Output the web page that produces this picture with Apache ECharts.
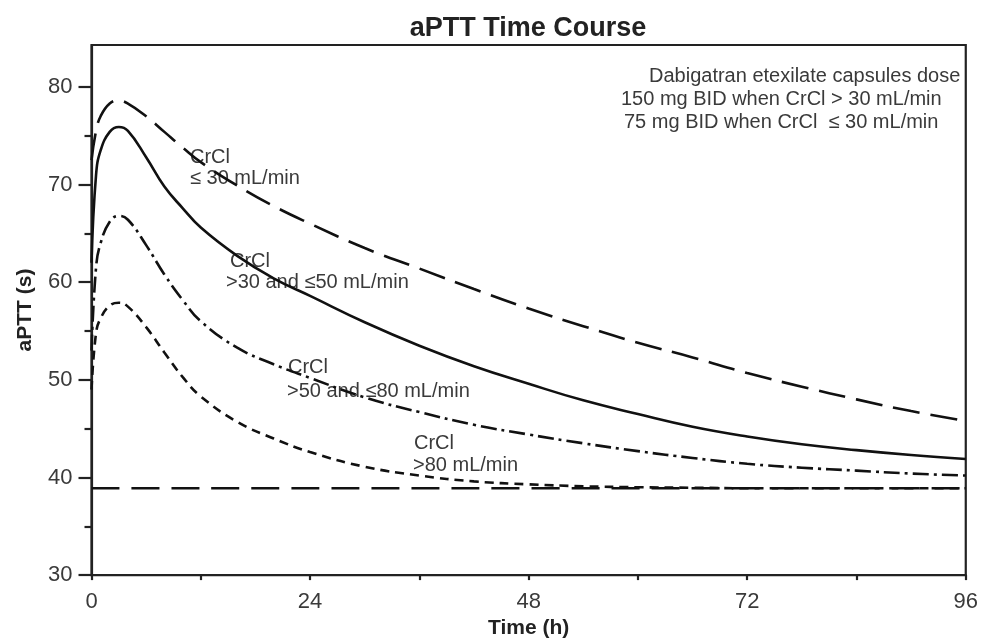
<!DOCTYPE html>
<html>
<head>
<meta charset="utf-8">
<script src="https://cdn.jsdelivr.net/npm/echarts@6/dist/echarts.min.js"></script>
<style>
html,body{margin:0;padding:0;background:#fff;}
#chart{width:981px;height:644px;}
</style>
</head>
<body>
<div id="chart"></div>
<script>
// ---- data ----
const hours = [0, 0.5, 1, 2, 3, 4, 6, 8, 10, 12, 16, 20, 24, 30, 36, 42, 48, 54, 60, 66, 72, 78, 84, 90, 96];
const crcl_le30   = [72.5, 75.5, 77.0, 78.3, 78.6, 78.3, 77.0, 75.4, 73.8, 72.3, 69.9, 67.8, 66.0, 63.5, 61.4, 59.3, 57.3, 55.5, 53.8, 52.3, 50.7, 49.3, 48.0, 46.8, 45.8];
const crcl_30_50  = [62.0, 71.0, 73.5, 75.4, 75.9, 75.5, 72.8, 69.8, 67.6, 65.6, 62.7, 60.4, 58.6, 55.9, 53.5, 51.4, 49.6, 47.9, 46.5, 45.2, 44.2, 43.4, 42.8, 42.3, 41.9];
const crcl_50_80  = [53.0, 61.5, 64.0, 66.2, 66.8, 66.4, 63.8, 60.8, 58.2, 56.0, 53.3, 51.6, 50.2, 48.2, 46.7, 45.4, 44.4, 43.5, 42.7, 42.0, 41.4, 41.0, 40.7, 40.4, 40.2];
const crcl_gt80   = [49.0, 54.8, 56.3, 57.6, 57.9, 57.5, 55.4, 52.8, 50.3, 48.3, 45.7, 44.0, 42.6, 41.1, 40.2, 39.6, 39.3, 39.1, 39.0, 38.95, 38.9, 38.9, 38.9, 38.9, 38.9];
const baselineHours = [0, 96];
const baselineValues = [38.9, 38.9];
const yMajorTicks = [30, 40, 50, 60, 70, 80];
const yMinorTicks = [35, 45, 55, 65, 75];
const xTickLabels = [0, 24, 48, 72, 96];

const titleText = 'aPTT Time Course';
const doseNote = [
  'Dabigatran etexilate capsules dose',
  '150 mg BID when CrCl > 30 mL/min',
  '75 mg BID when CrCl  \u2264 30 mL/min'
];
const curveLabels = [
  ['CrCl', '\u2264 30 mL/min'],
  ['CrCl', '>30 and \u226450 mL/min'],
  ['CrCl', '>50 and \u226480 mL/min'],
  ['CrCl', '>80 mL/min']
];

function pairs(xs, ys){ return xs.map((x,i)=>[x, ys[i]]); }

const FONT = 'Liberation Sans, Arial, sans-serif';
const LINE = '#111';
const TXT = '#3a3a3a';

const chart = echarts.init(document.getElementById('chart'), null, {renderer:'canvas'});

function lineSeries(name, data, dash){
  return {
    name, type:'line', data, smooth:0.45,
    showSymbol:false, symbol:'none', silent:true,
    lineStyle:{color:LINE, width:2.6, type:dash, cap:'butt'}
  };
}

const annot = [];
function addText(txt, x, y, size, weight, align, color){
  annot.push({type:'text', x, y, silent:true,
    style:{text:txt, fill:color||TXT, font:(weight||'normal')+' '+size+'px '+FONT,
      textVerticalAlign:'middle', textAlign:align||'left'}});
}
addText(titleText, 528, 29, 27, 'bold', 'center', '#222');
addText(doseNote[0], 649, 76, 20);
addText(doseNote[1], 621, 99, 20);
addText(doseNote[2], 624, 122, 20);
addText(curveLabels[0][0], 190, 157, 20);
addText(curveLabels[0][1], 190, 178, 20);
addText(curveLabels[1][0], 230, 261, 20);
addText(curveLabels[1][1], 226, 282, 20);
addText(curveLabels[2][0], 288, 367, 20);
addText(curveLabels[2][1], 287, 391, 20);
addText(curveLabels[3][0], 414, 443, 20);
addText(curveLabels[3][1], 413, 465, 20);

const option = {
  backgroundColor:'#fff',
  animation:false,
  grid:{left:91.5, right:15, top:45, bottom:66, show:true, borderColor:'#222', borderWidth:2.2},
  xAxis:{
    type:'value', min:0, max:96, interval:24,
    name:'Time (h)', nameLocation:'middle', nameGap:42,
    nameTextStyle:{fontFamily:FONT, fontSize:21, fontWeight:'bold', color:'#222'},
    axisLine:{show:true, lineStyle:{color:'#222', width:2.2}},
    axisTick:{show:true, length:5, lineStyle:{color:'#222', width:2.2}},
    minorTick:{show:true, splitNumber:2, length:5, lineStyle:{color:'#222', width:2.2}},
    axisLabel:{fontFamily:FONT, fontSize:22, color:TXT, margin:16,
      formatter:v=> xTickLabels.indexOf(v) >= 0 ? String(v) : ''},
    splitLine:{show:false}
  },
  yAxis:[{
    type:'value', min:30, max:84.3,
    name:'aPTT (s)', nameLocation:'middle', nameGap:56, nameRotate:90,
    nameTextStyle:{fontFamily:FONT, fontSize:21, fontWeight:'bold', color:'#222'},
    axisLine:{show:true, lineStyle:{color:'#222', width:2.2}},
    axisTick:{show:true, length:13, customValues:yMajorTicks, lineStyle:{color:'#222', width:2.2}},
    axisLabel:{fontFamily:FONT, fontSize:22, color:TXT, margin:19, customValues:yMajorTicks},
    splitLine:{show:false}
  },{
    type:'value', min:30, max:84.3, position:'left',
    axisLine:{show:false},
    axisTick:{show:true, length:7, customValues:yMinorTicks, lineStyle:{color:'#222', width:2.2}},
    axisLabel:{show:false, customValues:yMinorTicks},
    splitLine:{show:false}
  }],
  graphic:annot,
  series:[
    lineSeries('baseline', pairs(baselineHours, baselineValues), [28,12]),
    lineSeries('CrCl <=30', pairs(hours, crcl_le30), [27,11]),
    lineSeries('CrCl 30-50', pairs(hours, crcl_30_50), 'solid'),
    lineSeries('CrCl 50-80', pairs(hours, crcl_50_80), [16,5,3,5]),
    lineSeries('CrCl >80', pairs(hours, crcl_gt80), [9,6])
  ]
};
chart.setOption(option);
</script>
</body>
</html>
